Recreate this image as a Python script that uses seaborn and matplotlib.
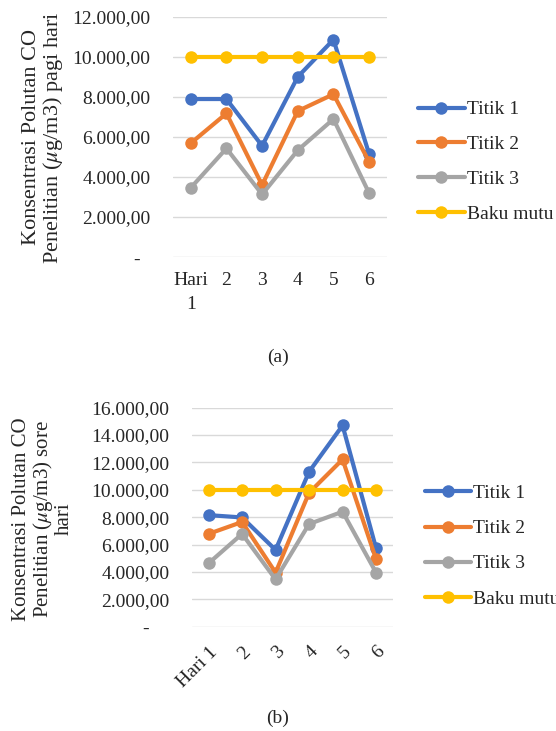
import matplotlib
matplotlib.use('Agg')
import matplotlib.pyplot as plt
import seaborn as sns
import pandas as pd
import numpy as np

# ---- data ----
hari = ['Hari 1', '2', '3', '4', '5', '6']
seri = ['Titik 1', 'Titik 2', 'Titik 3', 'Baku mutu']

pagi_titik1 = [7900, 7900, 5560, 9010, 10870, 5150]
pagi_titik2 = [5690, 7180, 3600, 7300, 8140, 4760]
pagi_titik3 = [3460, 5430, 3130, 5340, 6900, 3190]
pagi_baku = [10000, 10000, 10000, 10000, 10000, 10000]

sore_titik1 = [8150, 7980, 5610, 11320, 14700, 5730]
sore_titik2 = [6780, 7650, 3950, 9780, 12220, 4930]
sore_titik3 = [4630, 6780, 3460, 7500, 8400, 3950]
sore_baku = [10000, 10000, 10000, 10000, 10000, 10000]

warna = {'Titik 1': '#4472C4', 'Titik 2': '#ED7D31',
         'Titik 3': '#A5A5A5', 'Baku mutu': '#FFC000'}

sns.set_style('white')
plt.rcParams['font.family'] = ['Liberation Serif', 'DejaVu Serif']
plt.rcParams['mathtext.fontset'] = 'stix'


def to_long(t1, t2, t3, baku):
    df = pd.DataFrame({'hari': hari, 'Titik 1': t1, 'Titik 2': t2,
                       'Titik 3': t3, 'Baku mutu': baku})
    return df.melt(id_vars='hari', var_name='seri', value_name='nilai')


def fmt_id(v):
    if v == 0:
        return '-   '
    s = f'{v:,.2f}'
    return s.replace(',', 'X').replace('.', ',').replace('X', '.')


def draw(ax, df, ymax, zero_lbl):
    sns.lineplot(data=df, x='hari', y='nilai', hue='seri', hue_order=seri,
                 palette=warna, marker='o', markersize=9, markeredgewidth=0,
                 linewidth=3, sort=False, legend=False, ax=ax)
    ax.set_xlim(-0.5, len(hari) - 0.5)
    ax.set_ylim(0, ymax)
    yt = np.arange(0, ymax + 1, 2000)
    ax.set_yticks(yt)
    lbls = [fmt_id(v) for v in yt]
    lbls[0] = zero_lbl
    ax.set_yticklabels(lbls, fontsize=14)
    ax.yaxis.grid(True, color='#D9D9D9', linewidth=1)
    ax.set_axisbelow(True)
    for sp in ax.spines.values():
        sp.set_visible(False)
    ax.tick_params(axis='both', length=0)
    ax.tick_params(axis='y', pad=16)
    ax.set_xlabel('')
    ax.set_ylabel('')


fig = plt.figure(figsize=(5.56, 7.31), dpi=100)

# ---- (a) pagi hari ----
ax1 = fig.add_axes([0.311, 0.6484, 0.385, 0.3283])
draw(ax1, to_long(pagi_titik1, pagi_titik2, pagi_titik3, pagi_baku), 12000, '-  ')
ax1.set_xticks(range(len(hari)))
ax1.set_xticklabels(['Hari\n1'] + hari[1:], fontsize=14, va='top', linespacing=1.5)
ax1.tick_params(axis='x', pad=11)
ax1.legend(ax1.lines[:4], seri, loc='upper left', bbox_to_anchor=(0.752, 0.862),
           bbox_transform=fig.transFigure, frameon=False, fontsize=14,
           handlelength=2.4, handletextpad=0.1, labelspacing=0.88,
           borderpad=0, borderaxespad=0)
fig.text(0.079, 0.812, 'Konsentrasi Polutan CO\nPenelitian ($\\mu$g/m3) pagi hari',
         rotation=90, ha='center', va='center', fontsize=16, linespacing=1.0)
fig.text(0.5, 1 - 357 / 731, '(a)', ha='center', va='center', fontsize=14)

# ---- (b) sore hari ----
ax2 = fig.add_axes([0.345, 0.1427, 0.3615, 0.2996])
draw(ax2, to_long(sore_titik1, sore_titik2, sore_titik3, sore_baku), 16000, '-    ')
ax2.set_xticks(range(len(hari)))
ax2.set_xticklabels(hari, fontsize=14, rotation=45, ha='right',
                    rotation_mode='anchor')
ax2.tick_params(axis='x', pad=12)
ax2.legend(ax2.lines[:4], seri, loc='upper left', bbox_to_anchor=(0.764, 0.337),
           bbox_transform=fig.transFigure, frameon=False, fontsize=14,
           handlelength=2.4, handletextpad=0.1, labelspacing=0.9,
           borderpad=0, borderaxespad=0)
fig.text(0.077, 0.290, 'Konsentrasi Polutan CO\nPenelitian ($\\mu$g/m3) sore\nhari',
         rotation=90, ha='center', va='center', fontsize=15, linespacing=1.0)
fig.text(0.5, 1 - 718 / 731, '(b)', ha='center', va='center', fontsize=14)

fig.savefig('out.png', dpi=100)
